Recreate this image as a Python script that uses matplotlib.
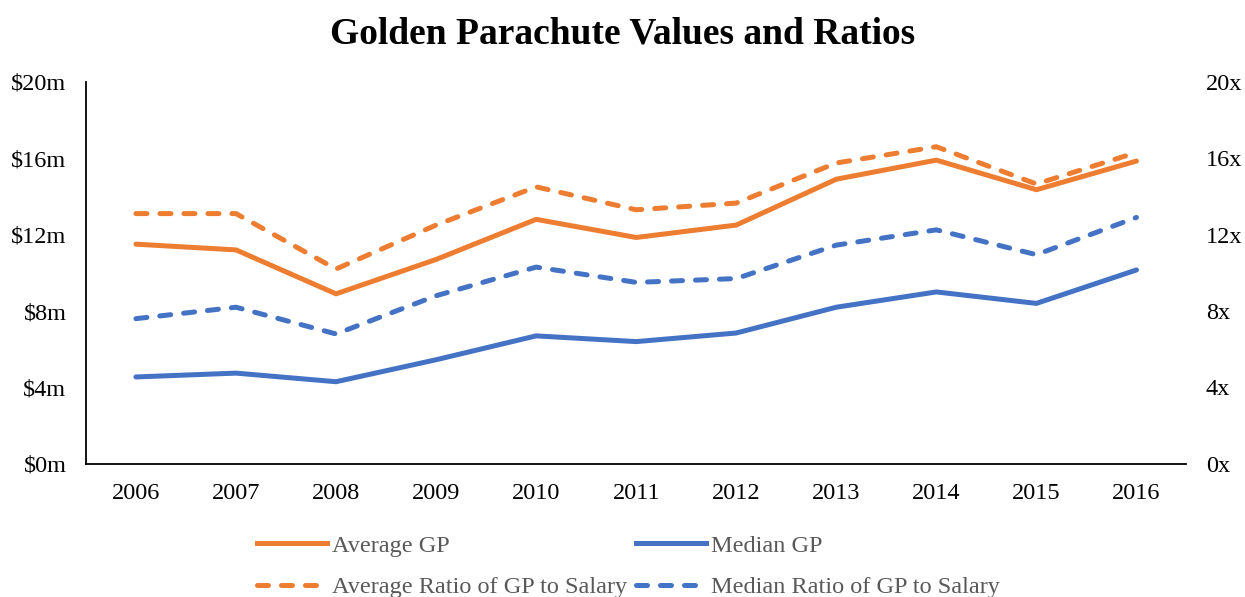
import matplotlib.pyplot as plt
from matplotlib.lines import Line2D

years = [2006, 2007, 2008, 2009, 2010, 2011, 2012, 2013, 2014, 2015, 2016]

avg_gp = [11.5, 11.2, 8.9, 10.7, 12.8, 11.85, 12.5, 14.9, 15.9, 14.35, 15.85]
med_gp = [4.55, 4.75, 4.3, 5.45, 6.7, 6.4, 6.85, 8.2, 9.0, 8.4, 10.15]
avg_ratio = [13.1, 13.1, 10.2, 12.5, 14.5, 13.3, 13.65, 15.75, 16.6, 14.65, 16.3]
med_ratio = [7.6, 8.2, 6.8, 8.8, 10.3, 9.5, 9.7, 11.45, 12.25, 10.95, 12.9]

orange = "#ED7D31"
blue = "#4472C4"

plt.rcParams["font.family"] = ["Liberation Serif", "DejaVu Serif"]

fig = plt.figure(figsize=(12.45, 5.97), dpi=100)
ax = fig.add_axes([0.069, 0.223, 0.884, 0.64])
ax2 = ax.twinx()

lw = 3.6
dash = dict(dashes=(2.2, 2.6), dash_capstyle="round")

ax.plot(years, avg_gp, color=orange, lw=lw, solid_capstyle="round")
ax.plot(years, med_gp, color=blue, lw=lw, solid_capstyle="round")
ax2.plot(years, avg_ratio, color=orange, lw=lw, **dash)
ax2.plot(years, med_ratio, color=blue, lw=lw, **dash)

ax.set_xlim(2005.5, 2016.5)
ax.set_ylim(0, 20)
ax2.set_ylim(0, 20)
ax.set_yticks(range(0, 21, 4))
ax.set_yticklabels([f"${v}m" for v in range(0, 21, 4)])
ax2.set_yticks(range(0, 21, 4))
ax2.set_yticklabels([f"{v}x" for v in range(0, 21, 4)])
ax.set_xticks(years)

for a in (ax, ax2):
    for s in ("top", "right"):
        a.spines[s].set_visible(False)
    a.tick_params(length=0, labelsize=17.5)
ax2.spines["left"].set_visible(False)
ax2.spines["bottom"].set_visible(False)
ax.spines["left"].set_linewidth(1.3)
ax.spines["bottom"].set_linewidth(1.3)
ax.tick_params(axis="x", pad=14)
ax.tick_params(axis="y", pad=14)
ax2.tick_params(axis="y", pad=14)

fig.suptitle("Golden Parachute Values and Ratios", fontsize=27, fontweight="bold", y=0.972)

# ncol=2 fills column-first, so order to get rows: avg/median, avg ratio/median ratio
handles = [
    Line2D([], [], color=orange, lw=lw),
    Line2D([], [], color=orange, lw=lw, **dash),
    Line2D([], [], color=blue, lw=lw),
    Line2D([], [], color=blue, lw=lw, **dash),
]
labels = ["Average GP", "Average Ratio of GP to Salary", "Median GP", "Median Ratio of GP to Salary"]
fig.legend(handles, labels, ncol=2, loc="upper left", bbox_to_anchor=(0.2064, 0.104),
           frameon=False, fontsize=17.5, handlelength=2.9, handletextpad=0.2,
           columnspacing=0.35, labelspacing=0.8, labelcolor="#595959",
           borderpad=0, borderaxespad=0)

fig.savefig("out.png", dpi=100)
